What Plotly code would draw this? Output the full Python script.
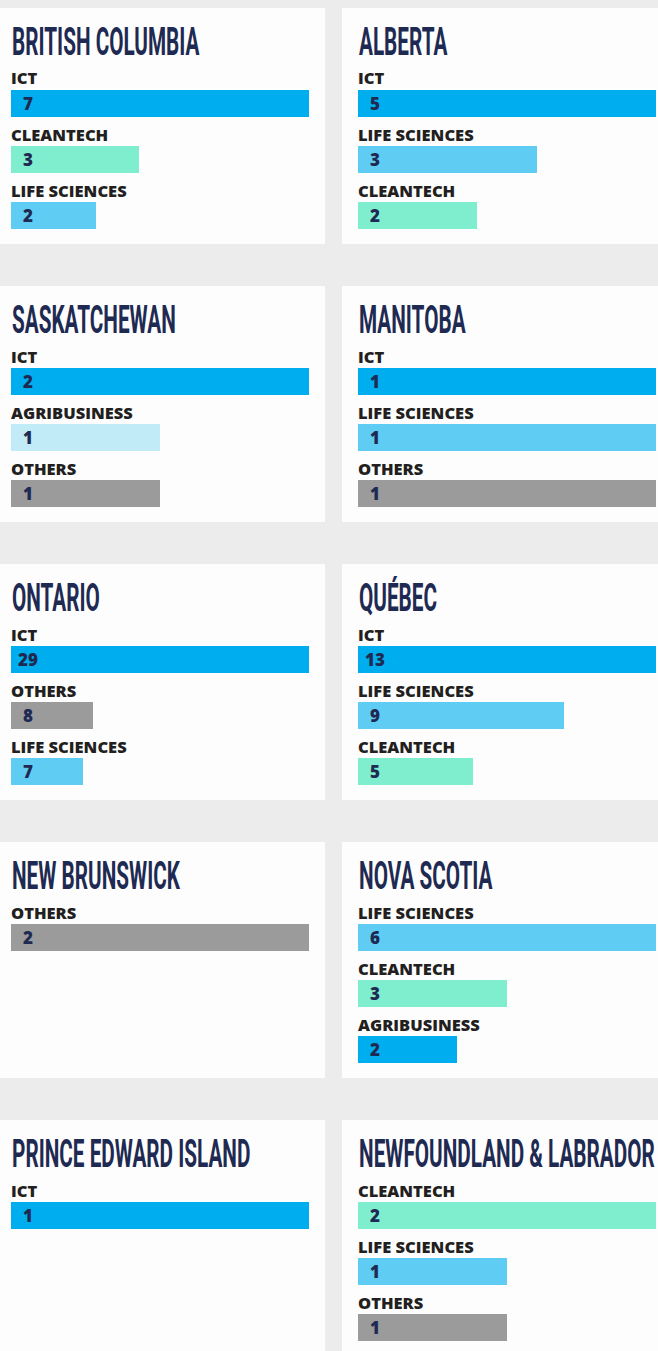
import plotly.graph_objects as go

# ---------------- data ----------------
provinces = ["BRITISH COLUMBIA", "ALBERTA", "SASKATCHEWAN", "MANITOBA", "ONTARIO",
             "QUÉBEC", "NEW BRUNSWICK", "NOVA SCOTIA", "PRINCE EDWARD ISLAND",
             "NEWFOUNDLAND & LABRADOR"]

bc_sectors = ["ICT", "CLEANTECH", "LIFE SCIENCES"]
bc_values = [7, 3, 2]
ab_sectors = ["ICT", "LIFE SCIENCES", "CLEANTECH"]
ab_values = [5, 3, 2]
sk_sectors = ["ICT", "AGRIBUSINESS", "OTHERS"]
sk_values = [2, 1, 1]
mb_sectors = ["ICT", "LIFE SCIENCES", "OTHERS"]
mb_values = [1, 1, 1]
on_sectors = ["ICT", "OTHERS", "LIFE SCIENCES"]
on_values = [29, 8, 7]
qc_sectors = ["ICT", "LIFE SCIENCES", "CLEANTECH"]
qc_values = [13, 9, 5]
nb_sectors = ["OTHERS"]
nb_values = [2]
ns_sectors = ["LIFE SCIENCES", "CLEANTECH", "AGRIBUSINESS"]
ns_values = [6, 3, 2]
pe_sectors = ["ICT"]
pe_values = [1]
nl_sectors = ["CLEANTECH", "LIFE SCIENCES", "OTHERS"]
nl_values = [2, 1, 1]

sector_lists = [bc_sectors, ab_sectors, sk_sectors, mb_sectors, on_sectors,
                qc_sectors, nb_sectors, ns_sectors, pe_sectors, nl_sectors]
value_lists = [bc_values, ab_values, sk_values, mb_values, on_values,
               qc_values, nb_values, ns_values, pe_values, nl_values]

# ---------------- style ----------------
W, H = 658, 1351
BG = "#ececec"
CARD = "#fdfdfd"
NAVY = "#1e2a52"
LABEL = "#231f20"
sector_colors = {
    "ICT": "#00aeef",
    "LIFE SCIENCES": "#5fcdf3",
    "CLEANTECH": "#7eeecf",
    "OTHERS": "#9b9b9b",
    "AGRIBUSINESS": "#c2ebf8",
}
color_override = {"NOVA SCOTIA": {"AGRIBUSINESS": "#00aeef"}}

TITLE_FONT = "Roboto, DejaVu Sans, sans-serif"
TITLE_SIZE = 38
TITLE_SCALE_X = 0.545    # horizontal condensing of the title typeface
BODY_FONT = "Open Sans, Lato, sans-serif"

col_bar_x0 = [11, 358]
BAR_W = 298
row_bar_top = [90 + 278 * r for r in range(5)]
CARD_OFF = 82           # card top above first bar
CARD_H = 236
BAR_H = 27
BAR_STEP = 56

fig = go.Figure()
shapes = []
annotations = []


def py(px):
    return min(1.0, max(0.0, 1 - px / H))


for i, (prov, secs, vals) in enumerate(zip(provinces, sector_lists, value_lists)):
    r, c = divmod(i, 2)
    n = i + 1
    xa = "x" if n == 1 else f"x{n}"
    ya = "y" if n == 1 else f"y{n}"
    card_top = row_bar_top[r] - CARD_OFF
    card_bot = card_top + CARD_H if r < 4 else H
    cx0, cx1 = (0, 325) if c == 0 else (342, W)
    shapes.append(dict(type="rect", xref="paper", yref="paper", x0=cx0 / W, x1=cx1 / W,
                       y0=py(card_bot), y1=py(card_top), fillcolor=CARD,
                       line=dict(width=0), layer="below"))

    bx0 = col_bar_x0[c]
    cols = [color_override.get(prov, {}).get(s, sector_colors[s]) for s in secs]
    ypos = [CARD_OFF + BAR_STEP * k + BAR_H / 2 for k in range(len(vals))]
    fig.add_trace(go.Bar(x=vals, y=ypos, orientation="h", width=BAR_H,
                         marker=dict(color=cols, line=dict(width=0)),
                         xaxis=xa, yaxis=ya, hoverinfo="skip", showlegend=False))

    span = min(CARD_H, H - card_top)
    xkey = "xaxis" if n == 1 else f"xaxis{n}"
    ykey = "yaxis" if n == 1 else f"yaxis{n}"
    fig.update_layout(**{
        xkey: dict(domain=[bx0 / W, (bx0 + BAR_W) / W], range=[0, max(vals)],
                   visible=False, fixedrange=True, anchor=ya),
        ykey: dict(domain=[py(card_top + span), py(card_top)], range=[span, 0],
                   visible=False, fixedrange=True, anchor=xa),
    })

    # province title
    annotations.append(dict(xref="paper", yref=ya, x=bx0 / W, y=CARD_OFF - 48,
                            text=prov, showarrow=False, xanchor="left", yanchor="middle",
                            xshift=-1,
                            font=dict(family=TITLE_FONT, size=TITLE_SIZE, color=NAVY,
                                      weight="bold")))
    for k, (s, v) in enumerate(zip(secs, vals)):
        top = CARD_OFF + BAR_STEP * k
        annotations.append(dict(xref=xa, yref=ya, x=0, y=top - 12, text=s,
                                showarrow=False, xanchor="left", yanchor="middle",
                                xshift=-2,
                                font=dict(family=BODY_FONT, size=16.5, color=LABEL,
                                          weight=800)))
        annotations.append(dict(xref=xa, yref=ya, x=0, y=top + BAR_H / 2, text=str(v),
                                showarrow=False, xanchor="center", yanchor="middle",
                                xshift=17,
                                font=dict(family=BODY_FONT, size=17, color=NAVY,
                                          weight=800)))

fig.update_layout(width=W, height=H, margin=dict(l=0, r=0, t=0, b=0),
                  paper_bgcolor=BG, plot_bgcolor="rgba(0,0,0,0)",
                  shapes=shapes, annotations=annotations, bargap=0)

post = """
document.body.style.margin = '0';
document.body.style.background = '%s';
var gd = document.getElementById('{plot_id}');
gd.querySelectorAll('text.annotation-text').forEach(function (t) {
  if (parseFloat(t.style.fontSize) >= %d) {
    var b = t.getBBox();
    var x0 = b.x;
    t.setAttribute('transform',
      'translate(' + x0 + ',0) scale(%s,1) translate(' + (-x0) + ',0)');
  }
});
""" % (BG, TITLE_SIZE - 1, TITLE_SCALE_X)

fig.write_html("out.html", config={"displayModeBar": False}, post_script=post)
